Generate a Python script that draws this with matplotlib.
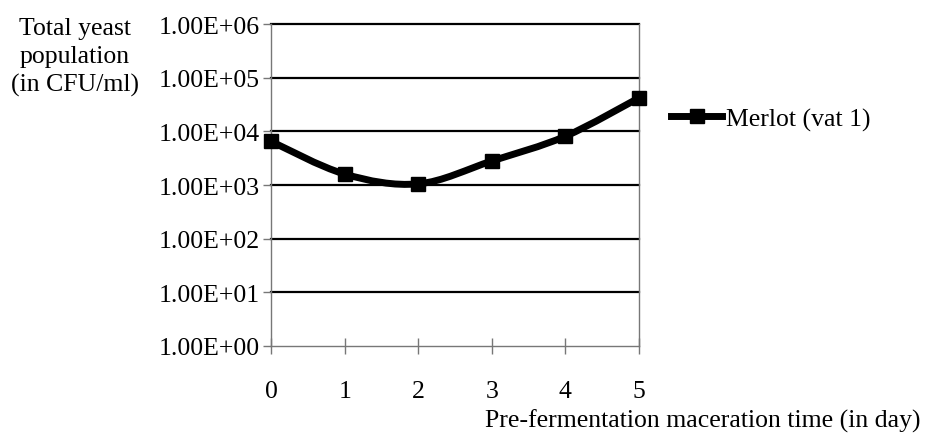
import numpy as np
import matplotlib.pyplot as plt
from matplotlib.path import Path
from matplotlib.patches import PathPatch
from matplotlib.ticker import FixedLocator, NullLocator

# 데이터
days = [0, 1, 2, 3, 4, 5]
merlot_vat1 = [6500, 1600, 1050, 2800, 8100, 42000]
ytick_vals = [1e0, 1e1, 1e2, 1e3, 1e4, 1e5, 1e6]
ytick_labels = ["1.00E+00", "1.00E+01", "1.00E+02", "1.00E+03",
                "1.00E+04", "1.00E+05", "1.00E+06"]

plt.rcParams['font.family'] = ['Liberation Serif', 'DejaVu Serif']
fs = 18.5

fig = plt.figure(figsize=(9.26, 4.35), dpi=100)
ax = fig.add_axes([0.2927, 0.2023, 0.69 - 0.2927, 0.9425 - 0.2023])

ax.set_yscale('log')
ax.set_ylim(1, 1e6)
ax.set_xlim(0, 5)

# 엑셀식 부드러운 선 (Catmull-Rom -> Bezier, log 공간에서)
px = np.array(days, dtype=float)
py = np.log10(merlot_vat1)
verts = [(px[0], py[0])]
codes = [Path.MOVETO]
n = len(px)
for i in range(n - 1):
    p0 = (px[max(i - 1, 0)], py[max(i - 1, 0)])
    p1 = (px[i], py[i])
    p2 = (px[i + 1], py[i + 1])
    p3 = (px[min(i + 2, n - 1)], py[min(i + 2, n - 1)])
    c1 = (p1[0] + (p2[0] - p0[0]) / 6, p1[1] + (p2[1] - p0[1]) / 6)
    c2 = (p2[0] - (p3[0] - p1[0]) / 6, p2[1] - (p3[1] - p1[1]) / 6)
    verts += [c1, c2, p2]
    codes += [Path.CURVE4] * 3
verts = [(vx, 10 ** vy) for vx, vy in verts]
curve = PathPatch(Path(verts, codes), facecolor='none', edgecolor='black',
                  lw=5, transform=ax.transData, clip_on=False, zorder=3,
                  capstyle='round', joinstyle='round')
ax.add_patch(curve)

ax.plot(days, merlot_vat1, linestyle='none', marker='s', color='black',
        markersize=9.5, clip_on=False, zorder=4)
# 범례용
ax.plot([], [], '-s', color='black', lw=5, markersize=9.5, label='Merlot (vat 1)')

for v in ytick_vals[1:]:
    ax.axhline(v, color='black', lw=1.6, zorder=1, clip_on=False)

ax.yaxis.set_major_locator(FixedLocator(ytick_vals))
ax.yaxis.set_minor_locator(NullLocator())
ax.set_yticklabels(ytick_labels)
ax.set_xticks(days)
ax.set_xticklabels([str(d) for d in days])

for s in ['left', 'right', 'bottom']:
    ax.spines[s].set_color('#777777')
    ax.spines[s].set_linewidth(1.0)
ax.spines['top'].set_visible(False)

ax.tick_params(axis='y', direction='out', length=6, width=1, color='#777777',
               pad=2, labelsize=fs)
ax.tick_params(axis='x', direction='inout', length=11, width=1, color='#777777',
               pad=19, labelsize=fs)

leg = ax.legend(loc='center left', bbox_to_anchor=(1.087, 0.705), frameon=False,
                fontsize=fs, handlelength=2.0, handletextpad=0.15,
                borderaxespad=0, borderpad=0)

fig.text(0.081, 0.958, "Total yeast\npopulation\n(in CFU/ml)", ha='center',
         va='top', fontsize=fs, linespacing=1.35)
fig.text(0.994, 0.005, "Pre-fermentation maceration time (in day)", ha='right',
         va='bottom', fontsize=fs)

fig.savefig('out.png', dpi=100)
